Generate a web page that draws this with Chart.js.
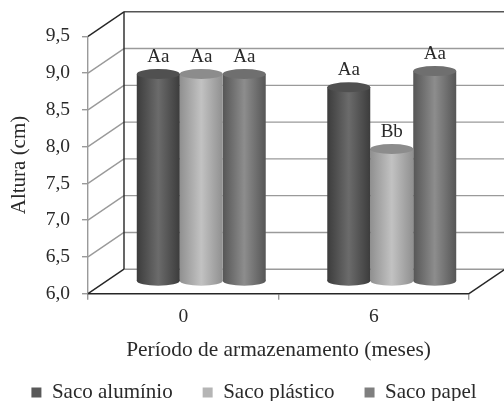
<!DOCTYPE html>
<html>
<head>
<meta charset="utf-8">
<style>
html, body { margin: 0; padding: 0; background: #fff; }
#wrap { width: 504px; height: 401px; }
</style>
<script src="https://cdn.jsdelivr.net/npm/chart.js@4"></script>
</head>
<body>
<div id="wrap"><canvas id="chart" width="504" height="401"></canvas></div>
<script>
const categories = ["0", "6"];
const aluminio = [8.82, 8.64];
const plastico = [8.82, 7.80];
const papel = [8.82, 8.86];
const aluminioMarks = ["Aa", "Aa"];
const plasticoMarks = ["Aa", "Bb"];
const papelMarks = ["Aa", "Aa"];
const yTicks = [6.0, 6.5, 7.0, 7.5, 8.0, 8.5, 9.0, 9.5];

const FONT = "'Liberation Serif', serif";
const TEXT = "#2a2a2a";
const WALL_GRAY = "#9a9a9a";
const DARK = "#262626";
const DEPTH_X = 36;
const DEPTH_Y = -24.5;
const RY = 5;
const LEGEND_HEIGHT = 49;

const shades = [
    { edge: "#3c3c3c", mid: "#6b6b6b", top: "#505050" },
    { edge: "#909090", mid: "#c2c2c2", top: "#8c8c8c" },
    { edge: "#565656", mid: "#8d8d8d", top: "#6f6f6f" },
];

function line(ctx, x1, y1, x2, y2, color, width) {
    ctx.strokeStyle = color;
    ctx.lineWidth = width;
    ctx.beginPath();
    ctx.moveTo(x1, y1);
    ctx.lineTo(x2, y2);
    ctx.stroke();
}

// legend runs the full canvas width and its box stays short despite the big padding
const legendFitPlugin = {
    id: "legendFit",
    beforeLayout(chart) {
        const legend = chart.legend;
        if (legend.shortFit) return;
        const fit = legend.fit;
        legend.fit = function () {
            // row check adds padding twice, so give it room to keep one row
            this.maxWidth = chart.width + 60;
            fit.call(this);
            this.height = LEGEND_HEIGHT;
        };
        legend.shortFit = true;
    },
    afterLayout(chart) {
        // same check again at draw time; left and right also set the centring
        chart.legend.left = -12;
        chart.legend.right = 520;
    },
};

// walls and floor of the 3d box, behind the bars
const boxPlugin = {
    id: "box",
    beforeDatasetsDraw(chart) {
        const { ctx, chartArea, scales } = chart;
        const { left, right } = chartArea;
        ctx.save();
        yTicks.forEach((tick) => {
            const y = scales.y.getPixelForValue(tick);
            const edge = tick === 9.5 || tick === 6.0;
            line(ctx, left, y, left + DEPTH_X, y + DEPTH_Y, edge ? DARK : WALL_GRAY, 1.4);
            line(ctx, left + DEPTH_X, y + DEPTH_Y, right + DEPTH_X, y + DEPTH_Y, tick === 9.5 ? "#555" : WALL_GRAY, 1.4);
        });
        const top = scales.y.getPixelForValue(9.5) + DEPTH_Y;
        const bottom = scales.y.getPixelForValue(6.0);
        line(ctx, left + DEPTH_X, top, left + DEPTH_X, bottom + DEPTH_Y, DARK, 1.4);
        line(ctx, right, bottom, right + DEPTH_X, bottom + DEPTH_Y, DARK, 1.4);
        ctx.restore();
    },
};

// bars stand in the middle of the box depth, drawn as cylinders
const cylinderPlugin = {
    id: "cylinder",
    beforeDatasetDraw(chart, args) {
        const { ctx } = chart;
        const shade = shades[args.index];
        ctx.save();
        ctx.translate(DEPTH_X / 2, DEPTH_Y / 2);
        args.meta.data.forEach((bar) => {
            const rx = bar.width / 2;
            const gradient = ctx.createLinearGradient(bar.x - rx, 0, bar.x + rx, 0);
            gradient.addColorStop(0, shade.edge);
            gradient.addColorStop(0.5, shade.mid);
            gradient.addColorStop(1, shade.edge);
            bar.options = { ...bar.options, backgroundColor: gradient };
            ctx.fillStyle = gradient;
            ctx.beginPath();
            ctx.ellipse(bar.x, bar.base, rx, RY, 0, 0, Math.PI * 2);
            ctx.fill();
        });
    },
    afterDatasetDraw(chart, args) {
        const { ctx } = chart;
        const shade = shades[args.index];
        args.meta.data.forEach((bar) => {
            ctx.fillStyle = shade.top;
            ctx.beginPath();
            ctx.ellipse(bar.x, bar.y, bar.width / 2, RY, 0, 0, Math.PI * 2);
            ctx.fill();
        });
        ctx.restore();
    },
    afterDatasetsDraw(chart) {
        const { ctx } = chart;
        ctx.save();
        ctx.font = "19px " + FONT;
        ctx.fillStyle = TEXT;
        ctx.textAlign = "center";
        ctx.textBaseline = "alphabetic";
        chart.data.datasets.forEach((dataset, i) => {
            chart.getDatasetMeta(i).data.forEach((bar, j) => {
                ctx.fillText(dataset.marks[j], bar.x + DEPTH_X / 2, bar.y + DEPTH_Y / 2 - 12);
            });
        });
        ctx.restore();
    },
};

new Chart(document.getElementById("chart"), {
    type: "bar",
    data: {
        labels: categories,
        datasets: [
            { label: "Saco alumínio", data: aluminio, marks: aluminioMarks, backgroundColor: "#595959", base: 6, clip: false },
            { label: "Saco plástico", data: plastico, marks: plasticoMarks, backgroundColor: "#b5b5b5", base: 6, clip: false },
            { label: "Saco papel", data: papel, marks: papelMarks, backgroundColor: "#7f7f7f", base: 6, clip: false },
        ],
    },
    options: {
        responsive: false,
        animation: false,
        events: [],
        categoryPercentage: 0.677,
        barPercentage: 1,
        layout: { padding: { top: 36.3, right: 35, bottom: 0, left: 0 } },
        plugins: {
            tooltip: { enabled: false },
            legend: {
                position: "bottom",
                labels: {
                    boxWidth: 10,
                    boxHeight: 10,
                    padding: 30,
                    color: TEXT,
                    font: { family: FONT, size: 21 },
                },
            },
        },
        scales: {
            x: {
                afterFit(scale) { scale.height = 58.3; },
                border: { color: DARK, width: 1.4 },
                grid: { drawOnChartArea: false, drawTicks: true, tickLength: 6, color: WALL_GRAY, lineWidth: 1.4 },
                ticks: { color: TEXT, padding: 5, maxRotation: 0, font: { family: FONT, size: 19.5 } },
                title: {
                    display: true,
                    text: "Período de armazenamento (meses)",
                    color: TEXT,
                    padding: { top: 0, bottom: -11.6 },
                    font: { family: FONT, size: 21.4 },
                },
            },
            y: {
                min: 6,
                max: 9.5,
                afterFit(scale) { scale.width = 88; },
                afterBuildTicks(scale) { scale.ticks = yTicks.map((value) => ({ value })); },
                border: { color: WALL_GRAY, width: 1.4 },
                grid: { drawOnChartArea: false, drawTicks: true, tickLength: 6, color: WALL_GRAY, lineWidth: 1.4 },
                ticks: {
                    color: TEXT,
                    padding: 12,
                    font: { family: FONT, size: 19.5 },
                    callback: (value) => value.toFixed(1).replace(".", ","),
                },
                title: {
                    display: true,
                    text: "Altura (cm)",
                    color: TEXT,
                    padding: { top: 7, bottom: 0 },
                    font: { family: FONT, size: 21 },
                },
            },
        },
    },
    plugins: [legendFitPlugin, boxPlugin, cylinderPlugin],
});
</script>
</body>
</html>
